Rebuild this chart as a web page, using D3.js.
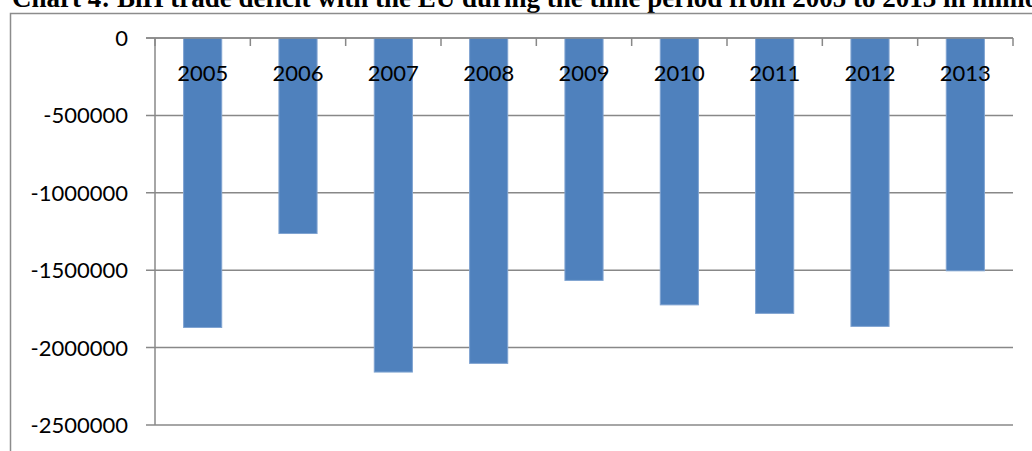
<!DOCTYPE html>
<html>
<head>
<meta charset="utf-8">
<script src="https://cdn.jsdelivr.net/npm/d3@7"></script>
<style>
  body { margin: 0; background: #fff; }
</style>
</head>
<body>
<svg width="1032" height="451"></svg>
<script>

// data
var years = ["2005", "2006", "2007", "2008", "2009", "2010", "2011", "2012", "2013"];
var deficit = [-1870000, -1263000, -2158000, -2102000, -1566000, -1724000, -1779000, -1863000, -1504000];
var yTicks = [0, -500000, -1000000, -1500000, -2000000, -2500000];

var svg = d3.select("svg");

var plotLeft = 155, plotRight = 1013, plotTop = 38, plotBottom = 425;

// one band per year, bars take the middle 40% (excel gap width 150%)
var xBand = d3.scaleBand().domain(years).range([plotLeft, plotRight]);
var barW = xBand.bandwidth() * 0.4;
var yScale = d3.scaleLinear().domain([-2500000, 0]).range([plotBottom, plotTop]);

// title, clipped by top edge
svg.append("text")
  .attr("x", 12)
  .attr("y", 7)
  .style("font-family", "Liberation Serif")
  .style("font-weight", "bold")
  .style("font-size", "27px")
  .text("Chart 4: BiH trade deficit with the EU during the time period from 2005 to 2013 in million KM");

// chart frame
svg.append("rect")
  .attr("x", 10.5).attr("y", 13.5)
  .attr("width", 1040).attr("height", 460)
  .attr("fill", "none")
  .attr("stroke", "#8c8c8c")
  .attr("stroke-width", 1.5);

// gridlines
svg.append("g")
  .selectAll("line")
  .data(yTicks)
  .enter().append("line")
  .attr("x1", plotLeft - 9).attr("x2", plotRight)
  .attr("y1", function(d) { return yScale(d); })
  .attr("y2", function(d) { return yScale(d); })
  .attr("stroke", "#888")
  .attr("stroke-width", 1.5);

// y axis line
svg.append("line")
  .attr("x1", plotLeft).attr("x2", plotLeft)
  .attr("y1", plotTop).attr("y2", plotBottom)
  .attr("stroke", "#888").attr("stroke-width", 1.5);

// y labels
svg.append("g")
  .selectAll("text")
  .data(yTicks)
  .enter().append("text")
  .attr("x", 128)
  .attr("y", function(d) { return yScale(d) + 8; })
  .attr("text-anchor", "end")
  .style("font-family", "Lato")
  .style("font-size", "22px")
  .text(function(d) { return d; });

// bars
svg.append("g")
  .selectAll("rect")
  .data(deficit)
  .enter().append("rect")
  .attr("x", function(d, i) { return xBand(years[i]) + (xBand.bandwidth() - barW) / 2; })
  .attr("y", yScale(0))
  .attr("width", barW)
  .attr("height", function(d) { return yScale(d) - yScale(0); })
  .attr("fill", "#4f81bd")
  .attr("stroke", "#7fa3d1")
  .attr("stroke-width", 1);

// category ticks on zero line
var edges = years.map(function(y) { return xBand(y); }).concat([plotRight]);
svg.append("g")
  .selectAll("line")
  .data(edges)
  .enter().append("line")
  .attr("x1", function(d) { return d; }).attr("x2", function(d) { return d; })
  .attr("y1", plotTop).attr("y2", plotTop + 8)
  .attr("stroke", "#888").attr("stroke-width", 1.5);

// zero line on top
svg.append("line")
  .attr("x1", plotLeft - 9).attr("x2", plotRight)
  .attr("y1", plotTop).attr("y2", plotTop)
  .attr("stroke", "#888").attr("stroke-width", 1.5);

// year labels
svg.append("g")
  .selectAll("text")
  .data(years)
  .enter().append("text")
  .attr("x", function(d) { return xBand(d) + xBand.bandwidth() / 2; })
  .attr("y", 81)
  .attr("text-anchor", "middle")
  .style("font-family", "Lato")
  .style("font-size", "22px")
  .text(function(d) { return d; });

</script>
</body>
</html>
